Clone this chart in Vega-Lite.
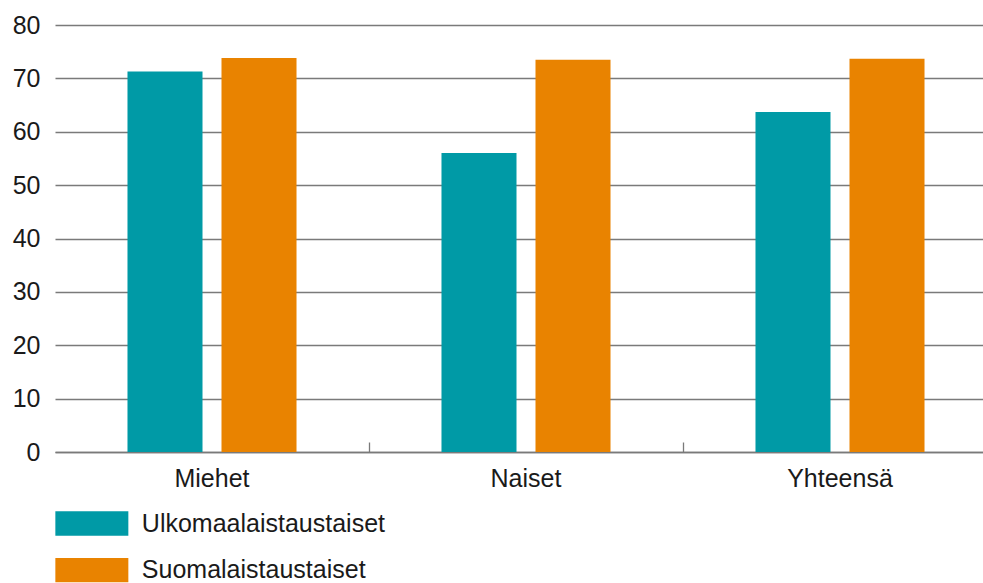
{
  "$schema": "https://vega.github.io/schema/vega-lite/v6.json",
  "autosize": {"type": "none"},
  "padding": {"left": 55, "top": 25, "right": 0, "bottom": 131},
  "width": 942,
  "height": 427,
  "background": "white",
  "config": {
    "view": {"stroke": null},
    "font": "Liberation Sans",
    "axis": {"labelFont": "Liberation Sans", "labelColor": "#1a1a1a", "labelFontSize": 25, "titleFontSize": 25}
  },
  "data": {
    "values": [
      {"ryhma": "Miehet", "tausta": "Ulkomaalaistaustaiset", "arvo": 71.3},
      {"ryhma": "Miehet", "tausta": "Suomalaistaustaiset", "arvo": 73.8},
      {"ryhma": "Naiset", "tausta": "Ulkomaalaistaustaiset", "arvo": 56.0},
      {"ryhma": "Naiset", "tausta": "Suomalaistaustaiset", "arvo": 73.5},
      {"ryhma": "Yhteensä", "tausta": "Ulkomaalaistaustaiset", "arvo": 63.7},
      {"ryhma": "Yhteensä", "tausta": "Suomalaistaustaiset", "arvo": 73.7}
    ]
  },
  "mark": {"type": "bar"},
  "encoding": {
    "x": {
      "field": "ryhma",
      "type": "nominal",
      "sort": ["Miehet", "Naiset", "Yhteensä"],
      "scale": {"paddingInner": 0, "paddingOuter": 0},
      "axis": {
        "title": null,
        "labelAngle": 0,
        "labelFontSize": 25,
        "labelPadding": 24,
        "bandPosition": 0,
        "tickSize": -10,
        "tickWidth": 1.3,
        "tickColor": {"condition": {"test": "datum.value === 'Miehet'", "value": "transparent"}, "value": "#7a7a7a"},
        "domainColor": "#7a7a7a",
        "domainWidth": 1.5,
        "grid": false
      }
    },
    "xOffset": {
      "field": "tausta",
      "type": "nominal",
      "sort": ["Ulkomaalaistaustaiset", "Suomalaistaustaiset"],
      "scale": {"paddingInner": 0.202, "paddingOuter": 0.771}
    },
    "y": {
      "field": "arvo",
      "type": "quantitative",
      "scale": {"domain": [0, 80], "nice": false},
      "axis": {
        "title": null,
        "values": [0, 10, 20, 30, 40, 50, 60, 70, 80],
        "domain": false,
        "ticks": false,
        "labelPadding": 15,
        "labelFontSize": 25,
        "gridColor": "#7a7a7a",
        "gridWidth": 1.5
      }
    },
    "color": {
      "field": "tausta",
      "type": "nominal",
      "sort": ["Ulkomaalaistaustaiset", "Suomalaistaustaiset"],
      "scale": {"domain": ["Ulkomaalaistaustaiset", "Suomalaistaustaiset"], "range": ["#009AA6", "#E98300"]},
      "legend": {
        "title": null,
        "orient": "none",
        "legendX": 24.35,
        "legendY": 486,
        "direction": "vertical",
        "padding": 0,
        "symbolType": "M-3,-1L3,-1L3,1L-3,1Z",
        "symbolSize": 592,
        "symbolStrokeWidth": 0,
        "symbolOpacity": 1,
        "labelFontSize": 25,
        "labelFont": "Liberation Sans",
        "labelColor": "#1a1a1a",
        "labelOffset": 37.5,
        "rowPadding": 20.7,
        "labelLimit": 0
      }
    }
  }
}
